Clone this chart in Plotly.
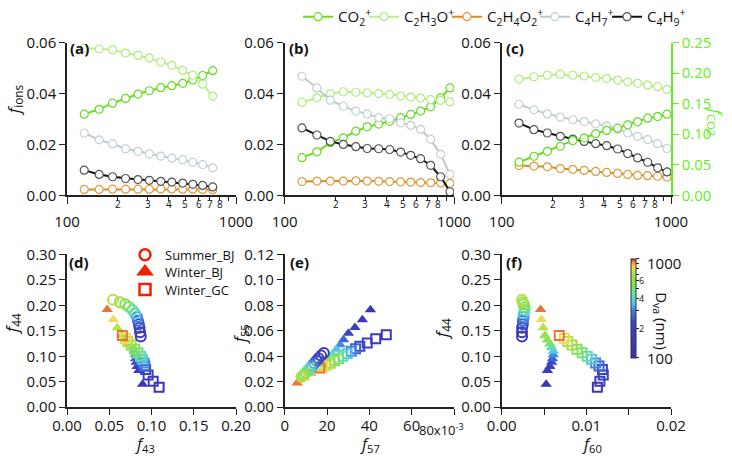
import numpy as np
import plotly.graph_objects as go

W, H = 732, 458

# ---------------- data ----------------
# vacuum aerodynamic diameter grid (nm)
dva = [126.5, 155, 186, 222, 263, 307, 359, 417, 484, 555, 635, 728, 834, 947]
dva_a = dva[:12]

# (a) Summer_BJ ion fractions
a_co2 = [0.0319, 0.0338, 0.0362, 0.0381, 0.0398, 0.0411, 0.0423, 0.0431, 0.0440, 0.0453, 0.0471, 0.0490]
a_c2h3o = [0.0579, 0.0576, 0.0572, 0.0559, 0.0550, 0.0540, 0.0524, 0.0511, 0.0491, 0.0472, 0.0437, 0.0390]
a_c2h4o2 = [0.0023, 0.0023, 0.0024, 0.0024, 0.0024, 0.0024, 0.0025, 0.0025, 0.0024, 0.0024, 0.0023, 0.0022]
a_c4h7 = [0.0245, 0.0218, 0.0202, 0.0183, 0.0173, 0.0163, 0.0154, 0.0146, 0.0140, 0.0130, 0.0121, 0.0108]
a_c4h9 = [0.0099, 0.0082, 0.0073, 0.0066, 0.0062, 0.0059, 0.0055, 0.0052, 0.0048, 0.0043, 0.0039, 0.0033]

# (b) Winter_BJ ion fractions
b_co2 = [0.0148, 0.0171, 0.0207, 0.0226, 0.0252, 0.0269, 0.0280, 0.0291, 0.0305, 0.0318, 0.0331, 0.0348, 0.0383, 0.0422]
b_c2h3o = [0.0366, 0.0383, 0.0399, 0.0407, 0.0405, 0.0403, 0.0400, 0.0396, 0.0390, 0.0386, 0.0382, 0.0376, 0.0373, 0.0367]
b_c2h4o2 = [0.0054, 0.0056, 0.0056, 0.0056, 0.0057, 0.0056, 0.0055, 0.0054, 0.0053, 0.0052, 0.0050, 0.0049, 0.0048, 0.0047]
b_c4h7 = [0.0468, 0.0422, 0.0374, 0.0350, 0.0331, 0.0320, 0.0305, 0.0301, 0.0285, 0.0275, 0.0259, 0.0220, 0.0161, 0.0082]
b_c4h9 = [0.0265, 0.0237, 0.0212, 0.0200, 0.0191, 0.0184, 0.0183, 0.0180, 0.0170, 0.0157, 0.0144, 0.0118, 0.0073, 0.0014]

# (c) Winter_GC ion fractions (CO2+ on right axis, fCO2)
c_co2 = [0.0542, 0.0640, 0.0721, 0.0803, 0.0895, 0.0938, 0.1009, 0.1063, 0.1100, 0.1155, 0.1204, 0.1264, 0.1290, 0.1329]
c_c2h3o = [0.0457, 0.0466, 0.0472, 0.0476, 0.0472, 0.0469, 0.0463, 0.0459, 0.0453, 0.0446, 0.0440, 0.0433, 0.0427, 0.0416]
c_c2h4o2 = [0.0117, 0.0115, 0.0112, 0.0105, 0.0102, 0.0098, 0.0094, 0.0090, 0.0086, 0.0082, 0.0078, 0.0077, 0.0075, 0.0072]
c_c4h7 = [0.0358, 0.0336, 0.0320, 0.0307, 0.0297, 0.0290, 0.0281, 0.0273, 0.0260, 0.0245, 0.0232, 0.0219, 0.0203, 0.0184]
c_c4h9 = [0.0284, 0.0258, 0.0245, 0.0232, 0.0221, 0.0212, 0.0203, 0.0195, 0.0182, 0.0164, 0.0147, 0.0130, 0.0108, 0.0092]

# bottom row: size-resolved fragment fractions
s_f43 = [0.0873, 0.0865, 0.0858, 0.0850, 0.0840, 0.0828, 0.0805, 0.0775, 0.0735, 0.0690, 0.0625, 0.0545]
s_f44 = [0.139, 0.147, 0.156, 0.163, 0.170, 0.177, 0.184, 0.191, 0.197, 0.202, 0.206, 0.211]
s_f57 = [0.0185, 0.0172, 0.0160, 0.0150, 0.0140, 0.0130, 0.0120, 0.0110, 0.0100, 0.0092, 0.0085, 0.0079]
s_f55 = [0.0425, 0.0405, 0.0385, 0.0365, 0.0345, 0.0325, 0.0305, 0.0290, 0.0270, 0.0255, 0.0245, 0.0237]
s_f60 = [0.0024, 0.0024, 0.0024, 0.0025, 0.0025, 0.0026, 0.0026, 0.0027, 0.0027, 0.0026, 0.0025, 0.0024]

w_f43 = [0.0895, 0.0850, 0.0830, 0.0820, 0.0810, 0.0810, 0.0800, 0.0770, 0.0730, 0.0690, 0.0650, 0.0595, 0.0548, 0.0476]
w_f44 = [0.045, 0.072, 0.080, 0.088, 0.095, 0.103, 0.110, 0.117, 0.124, 0.132, 0.141, 0.156, 0.172, 0.192]
w_f57 = [0.0405, 0.0367, 0.0332, 0.0301, 0.0278, 0.0262, 0.0245, 0.0225, 0.0200, 0.0175, 0.0150, 0.0125, 0.0095, 0.0059]
w_f55 = [0.0765, 0.0687, 0.0627, 0.0580, 0.0530, 0.0490, 0.0455, 0.0415, 0.0375, 0.0335, 0.0300, 0.0265, 0.0230, 0.0190]
w_f60 = [0.00525, 0.0054, 0.0057, 0.0059, 0.0060, 0.0061, 0.0061, 0.0059, 0.0057, 0.0054, 0.0051, 0.0049, 0.0047, 0.0046]

g_f43 = [0.109, 0.102, 0.096, 0.093, 0.092, 0.091, 0.089, 0.087, 0.084, 0.080, 0.076, 0.072, 0.069, 0.0655]
g_f44 = [0.039, 0.051, 0.063, 0.074, 0.081, 0.087, 0.094, 0.100, 0.107, 0.114, 0.122, 0.129, 0.135, 0.141]
g_f57 = [0.0480, 0.0430, 0.0390, 0.0355, 0.0335, 0.0315, 0.0295, 0.0275, 0.0255, 0.0235, 0.0215, 0.0195, 0.0180, 0.0166]
g_f55 = [0.0570, 0.0538, 0.0505, 0.0478, 0.0460, 0.0440, 0.0420, 0.0400, 0.0380, 0.0365, 0.0345, 0.0330, 0.0318, 0.0308]
g_f60 = [0.0113, 0.0116, 0.0120, 0.0119, 0.0115, 0.0111, 0.0106, 0.0101, 0.0095, 0.0089, 0.0083, 0.0078, 0.0074, 0.0068]

ion_names = ["CO<sub>2</sub><sup>+</sup>", "C<sub>2</sub>H<sub>3</sub>O<sup>+</sup>",
             "C<sub>2</sub>H<sub>4</sub>O<sub>2</sub><sup>+</sup>", "C<sub>4</sub>H<sub>7</sub><sup>+</sup>",
             "C<sub>4</sub>H<sub>9</sub><sup>+</sup>"]
ion_colors = ["#66dd22", "#b8f08a", "#dd8a22", "#bcc9cd", "#111111"]
marker_edges = ["#66dd22", "#b0ec80", "#e09a40", "#c4d0d4", "#555555"]
minor_vals = [200, 300, 400, 500, 600, 700, 800, 900]
minor_labels = ["2", "3", "4", "5", "6", "7", "8", ""]
site_names = ["Summer_BJ", "Winter_BJ", "Winter_GC"]
cb_vals = [100, 200, 300, 400, 500, 600, 700, 800, 900, 1000]
cb_labels = ["100", "2", "", "4", "", "6", "", "", "", "1000"]
e_ticks = [0, 0.02, 0.04, 0.06, 0.08]
e_ticktext = ["0", "20", "40", "60", ""]
e_last_label = "80x10<sup>-3</sup>"

FONT = "Open Sans"
AX = "#222222"
GREEN = "#66ee22"

colorscale = [
    [0.0, "#3c2fb0"], [0.35, "#3a44c8"], [0.47, "#3f78dc"], [0.56, "#55c8e8"],
    [0.64, "#62e0b0"], [0.72, "#80e058"], [0.84, "#a4e040"], [0.92, "#f0dc58"],
    [0.97, "#f08a3a"], [1.0, "#e82010"],
]

fig = go.Figure()

# legend placement (pixel marker centres)
top_leg_x = [318, 384, 467, 555, 627]
top_leg_ids = ["legend", "legend3", "legend4", "legend5", "legend6"]
bot_leg_y = [253, 270, 288]
bot_leg_ids = ["legend2", "legend7", "legend8"]

# ---------------- top row ----------------
top_sets = [
    (dva_a, [a_co2, a_c2h3o, a_c2h4o2, a_c4h7, a_c4h9], "x", "y"),
    (dva, [b_co2, b_c2h3o, b_c2h4o2, b_c4h7, b_c4h9], "x2", "y2"),
    (dva, [c_co2, c_c2h3o, c_c2h4o2, c_c4h7, c_c4h9], "x3", "y3"),
]
for pi, (xs, series, xa, ya) in enumerate(top_sets):
    for si, ys in enumerate(series):
        yax = ya
        if pi == 2 and si == 0:
            yax = "y7"
        fig.add_trace(go.Scatter(
            x=xs, y=ys, mode="lines+markers", name=ion_names[si],
            line=dict(color=ion_colors[si], width=2),
            marker=dict(symbol="circle", size=8, color="white",
                        line=dict(color=marker_edges[si], width=1.2)),
            showlegend=(pi == 0), legend=top_leg_ids[si],
            xaxis=xa, yaxis=yax))

# ---------------- bottom row ----------------
logd_s = list(np.log10(dva_a))
logd = list(np.log10(dva))
bottom = [
    ("x4", "y4", s_f43, s_f44, w_f43, w_f44, g_f43, g_f44),
    ("x5", "y5", s_f57, s_f55, w_f57, w_f55, g_f57, g_f55),
    ("x6", "y6", s_f60, s_f44, w_f60, w_f44, g_f60, g_f44),
]
for bi, (xa, ya, sx, sy, wx, wy, gx, gy) in enumerate(bottom):
    common = dict(colorscale=colorscale, cmin=2, cmax=3)
    fig.add_trace(go.Scatter(
        x=wx, y=wy, mode="markers", showlegend=False, xaxis=xa, yaxis=ya,
        marker=dict(symbol="triangle-up", size=10, color=logd, line=dict(width=0), **common)))
    fig.add_trace(go.Scatter(
        x=gx, y=gy, mode="markers", showlegend=False, xaxis=xa, yaxis=ya,
        marker=dict(symbol="square-open", size=9, color=logd, line=dict(width=2), **common)))
    fig.add_trace(go.Scatter(
        x=sx, y=sy, mode="markers", showlegend=False, xaxis=xa, yaxis=ya,
        marker=dict(symbol="circle-open", size=10, color=logd_s, line=dict(width=2), **common)))

# colorbar carrier
CB_TOP, CB_BOT = 257, 357
fig.add_trace(go.Scatter(
    x=[None], y=[None], mode="markers", showlegend=False, xaxis="x6", yaxis="y6",
    marker=dict(color=[2.5], colorscale=colorscale, cmin=2, cmax=3, showscale=True,
                colorbar=dict(x=631 / W, xanchor="left", y=1 - (CB_TOP + CB_BOT) / 2 / H,
                              yanchor="middle", len=(CB_BOT - CB_TOP) / H, lenmode="fraction",
                              thickness=5, xpad=0, ypad=0,
                              outlinewidth=1, outlinecolor="#333",
                              tickvals=list(np.log10(cb_vals)), showticklabels=False,
                              ticks="outside", ticklen=3, tickcolor="#222"))))

# legend entries for bottom row
leg_syms = ["circle-open", "triangle-up", "square-open"]
for nm, sym, lid in zip(site_names, leg_syms, bot_leg_ids):
    fig.add_trace(go.Scatter(
        x=[None], y=[None], mode="markers", name=nm, legend=lid,
        xaxis="x4", yaxis="y4",
        marker=dict(symbol=sym, size=11, color="#ee2200", line=dict(width=2.5, color="#ee2200"))))

# ---------------- axes ----------------
XD = [(67 / W, 236 / W), (284.7 / W, 454 / W), (501.7 / W, 671 / W)]
YT = (1 - 193 / H, 1 - 39 / H)
YB = (1 - 406.7 / H, 1 - 252.7 / H)

base = dict(showgrid=False, zeroline=False, showline=True, linecolor=AX, linewidth=1.5,
            ticks="outside", tickcolor=AX, tickwidth=1.2, ticklen=6, tickangle=0,
            tickfont=dict(size=15, family=FONT, color="#111"), automargin=False)

lay = {}
for i, (xname, yname) in enumerate([("xaxis", "yaxis"), ("xaxis2", "yaxis2"), ("xaxis3", "yaxis3")]):
    anchor_y = "y" if i == 0 else "y%d" % (i + 1)
    anchor_x = "x" if i == 0 else "x%d" % (i + 1)
    lay[xname] = dict(base, domain=XD[i], anchor=anchor_y, type="log", range=[2, 3],
                      tickvals=[100, 1000], ticktext=["100", "1000"], ticklen=7,
                      ticklabelstandoff=5,
                      minor=dict(tickvals=minor_vals, ticklen=4, ticks="outside",
                                 tickcolor=AX, tickwidth=1.2))
    lay[yname] = dict(base, domain=YT, anchor=anchor_x, range=[0, 0.06],
                      tickvals=[0, 0.02, 0.04, 0.06], tickformat=".2f")
lay["yaxis7"] = dict(base, overlaying="y3", side="right", anchor="x3", range=[0, 0.25],
                     tickvals=[0, 0.05, 0.10, 0.15, 0.20, 0.25], tickformat=".2f",
                     linecolor=GREEN, tickcolor=GREEN,
                     tickfont=dict(size=15, family=FONT, color=GREEN))

lay["xaxis4"] = dict(base, domain=XD[0], anchor="y4", range=[0, 0.2],
                     tickvals=[0, 0.05, 0.10, 0.15, 0.20], tickformat=".2f", ticklabelstandoff=-2)
lay["yaxis4"] = dict(base, domain=YB, anchor="x4", range=[0, 0.30],
                     tickvals=[0, 0.05, 0.10, 0.15, 0.20, 0.25, 0.30], tickformat=".2f")
lay["xaxis5"] = dict(base, domain=XD[1], anchor="y5", range=[0, 0.08],
                     tickvals=e_ticks, ticktext=e_ticktext, ticklabelstandoff=-2)
lay["yaxis5"] = dict(base, domain=YB, anchor="x5", range=[0, 0.12],
                     tickvals=[0, 0.02, 0.04, 0.06, 0.08, 0.10, 0.12], tickformat=".2f")
lay["xaxis6"] = dict(base, domain=XD[2], anchor="y6", range=[0, 0.02],
                     tickvals=[0, 0.01, 0.02], tickformat=".2f", ticklabelstandoff=-2,
                     minor=dict(tickvals=[0.005, 0.015], ticklen=6, ticks="outside",
                                tickcolor=AX, tickwidth=1.2))
lay["yaxis6"] = dict(base, domain=YB, anchor="x6", range=[0, 0.30],
                     tickvals=[0, 0.05, 0.10, 0.15, 0.20, 0.25, 0.30], tickformat=".2f")

# legends
legs = {}
for lid, px in zip(top_leg_ids, top_leg_x):
    legs[lid] = dict(orientation="h", x=(px - 20) / W, y=1 - 13 / H, xanchor="left",
                     yanchor="middle", font=dict(size=15, family=FONT),
                     bgcolor="rgba(0,0,0,0)", itemwidth=30)
for lid, py in zip(bot_leg_ids, bot_leg_y):
    legs[lid] = dict(x=125 / W, y=1 - py / H, xanchor="left", yanchor="middle",
                     font=dict(size=13, family=FONT), bgcolor="rgba(0,0,0,0)", itemwidth=30)

# ---------------- annotations ----------------
ann = []
def A(x, y, text, size=15, angle=0, xanchor="center", yanchor="middle", xref="paper", yref="paper",
      color="#111", bold=False, xshift=0):
    ann.append(dict(x=x, y=y, xref=xref, yref=yref, text=("<b>%s</b>" % text) if bold else text,
                    showarrow=False, textangle=angle, xanchor=xanchor, yanchor=yanchor,
                    xshift=xshift, font=dict(size=size, family=FONT, color=color), borderpad=0))

# minor tick labels on log axes
for xr in ["x", "x2", "x3"]:
    for v, t in zip(minor_vals, minor_labels):
        if t:
            A(float(np.log10(v)), 1 - 202 / H, t, size=10, xref=xr)

# last tick label of panel (e), right-aligned near its tick
A(e_ticks[-1], 1 - 429 / H, e_last_label, size=13, xref="x5", xanchor="right", xshift=11)

# colorbar tick labels (log scale between bar ends)
for v, t in zip(cb_vals, cb_labels):
    if not t:
        continue
    ypix = CB_BOT - (np.log10(v) - 2) * (CB_BOT - CB_TOP)
    if v in (100, 1000):
        A(646 / W, 1 - (ypix + (4 if v == 1000 else 0)) / H, t, size=15, xanchor="left")
    else:
        A(638 / W, 1 - ypix / H, t, size=9, xanchor="left")

# panel labels
for lab, px, py in [("(a)", 69, 44), ("(b)", 288, 44), ("(c)", 505, 44),
                    ("(d)", 68, 260), ("(e)", 289, 260), ("(f)", 505, 260)]:
    A(px / W, 1 - py / H, lab, size=15, xanchor="left", bold=True)

# axis titles
A(14 / W, 1 - 97 / H, "<i>f</i><sub>ions</sub>", size=17, angle=-90)
A(715 / W, 1 - 118 / H, "<i>f</i><sub>CO2</sub>", size=16, angle=90, color=GREEN)
A(12 / W, 1 - 323 / H, "<i>f</i><sub>44</sub>", size=17, angle=-90)
A(240 / W, 1 - 333 / H, "<i>f</i><sub>55</sub>", size=16, angle=-90)
A(442 / W, 1 - 328 / H, "<i>f</i><sub>44</sub>", size=17, angle=-90)
A(145 / W, 1 / H, "<i>f</i><sub>43</sub>", size=16, yanchor="bottom")
A(370 / W, 1 / H, "<i>f</i><sub>57</sub>", size=16, yanchor="bottom")
A(592 / W, 1 / H, "<i>f</i><sub>60</sub>", size=16, yanchor="bottom")
A(661 / W, 1 - 320 / H, "D<sub>va</sub> (nm)", size=15, angle=90)

fig.update_layout(
    width=W, height=H, margin=dict(l=0, r=0, t=0, b=0),
    paper_bgcolor="white", plot_bgcolor="white",
    font=dict(family=FONT, size=15, color="#111"),
    annotations=ann,
    **legs,
    **lay,
)

fig.write_html("out.html")
